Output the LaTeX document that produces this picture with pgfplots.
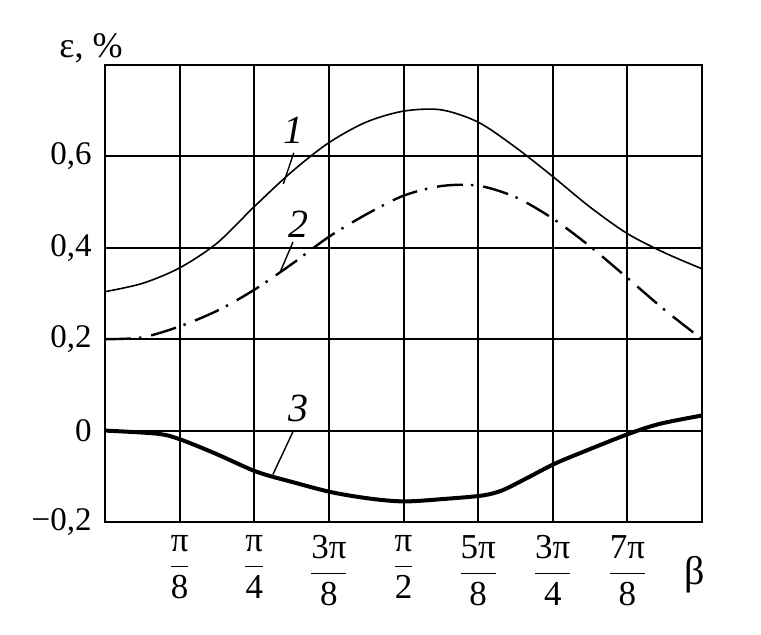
\documentclass[border=0pt]{standalone}
\usepackage{pgfplots}
\pgfplotsset{compat=1.18}
\usepackage{fontspec}
\setmainfont{Liberation Serif}
\begin{document}
\fontsize{16.5}{20}\selectfont
\begin{tikzpicture}
\useasboundingbox (-52.5pt,-56.5pt) rectangle (328pt,261pt);
\begin{axis}[
    scale only axis,
    width=298.5pt, height=228.5pt,
    xmin=0, xmax=8, ymin=-0.2, ymax=0.8,
    xtick={1,2,...,7},
    xticklabels={
        $\displaystyle\frac{\mbox{π}}{\mbox{8}}$,
        $\displaystyle\frac{\mbox{π}}{\mbox{4}}$,
        $\displaystyle\frac{\mbox{3π}}{\mbox{8}}$,
        $\displaystyle\frac{\mbox{π}}{\mbox{2}}$,
        $\displaystyle\frac{\mbox{5π}}{\mbox{8}}$,
        $\displaystyle\frac{\mbox{3π}}{\mbox{4}}$,
        $\displaystyle\frac{\mbox{7π}}{\mbox{8}}$},
    ytick={-0.2,0,0.2,0.4,0.6},
    yticklabels={{−0,2},0,{0,2},{0,4},{0,6}},
    major tick length=0pt,
    grid=major,
    major grid style={black, line width=1pt},
    axis line style={line width=1.4pt},
    yticklabel style={font=\fontsize{16.5}{20}\selectfont, xshift=-1pt},
    xticklabel style={font=\fontsize{17.5}{21}\selectfont, yshift=-1pt},
    clip=false,
]
% curve 1
\addplot[black, line width=0.8pt, smooth] coordinates {
    (0,0.304) (0.5,0.322) (1,0.356) (1.5,0.410) (2,0.490) (2.5,0.566)
    (3,0.630) (3.5,0.675) (4,0.699) (4.5,0.702) (5,0.675) (5.5,0.620)
    (6,0.556) (6.5,0.489) (7,0.431) (7.5,0.389) (8,0.354)};
% curve 2
\addplot[black, line width=1.2pt, smooth, dash pattern=on 13pt off 4pt on 1.2pt off 5pt] coordinates {
    (0,0.200) (0.5,0.204) (1,0.228) (1.5,0.262) (2,0.308) (2.5,0.364)
    (3,0.424) (3.5,0.473) (4,0.514) (4.5,0.535) (5,0.536) (5.5,0.511)
    (6,0.464) (6.5,0.403) (7,0.334) (7.5,0.264) (8,0.200)};
% curve 3
\addplot[black, line width=2pt, smooth, tension=0.5] coordinates {
    (0,0.000) (0.71,-0.007) (1.02,-0.020) (1.49,-0.051) (2.03,-0.090)
    (2.52,-0.113) (3.04,-0.135) (3.56,-0.149) (4.02,-0.155) (4.59,-0.149)
    (5.06,-0.142) (5.32,-0.131) (5.63,-0.106) (6.02,-0.073) (6.40,-0.047)
    (7.02,-0.007) (7.44,0.015) (8,0.033)};
% curve labels
\node[font=\fontsize{20}{24}\selectfont\itshape] at (axis cs:2.52,0.656) {1};
\draw[line width=0.7pt] (axis cs:2.53,0.608) -- (axis cs:2.39,0.540);
\node[font=\fontsize{20}{24}\selectfont\itshape] at (axis cs:2.59,0.452) {2};
\draw[line width=0.7pt] (axis cs:2.52,0.413) -- (axis cs:2.35,0.348);
\node[font=\fontsize{20}{24}\selectfont\itshape] at (axis cs:2.59,0.048) {3};
\draw[line width=0.7pt] (axis cs:2.52,-0.002) -- (axis cs:2.25,-0.096);
\end{axis}
\node[font=\fontsize{18}{22}\selectfont] at (-7pt,237pt) {ε, \%};
\node[font=\fontsize{20}{24}\selectfont] at (295pt,-26.5pt) {β};
\end{tikzpicture}
\end{document}
